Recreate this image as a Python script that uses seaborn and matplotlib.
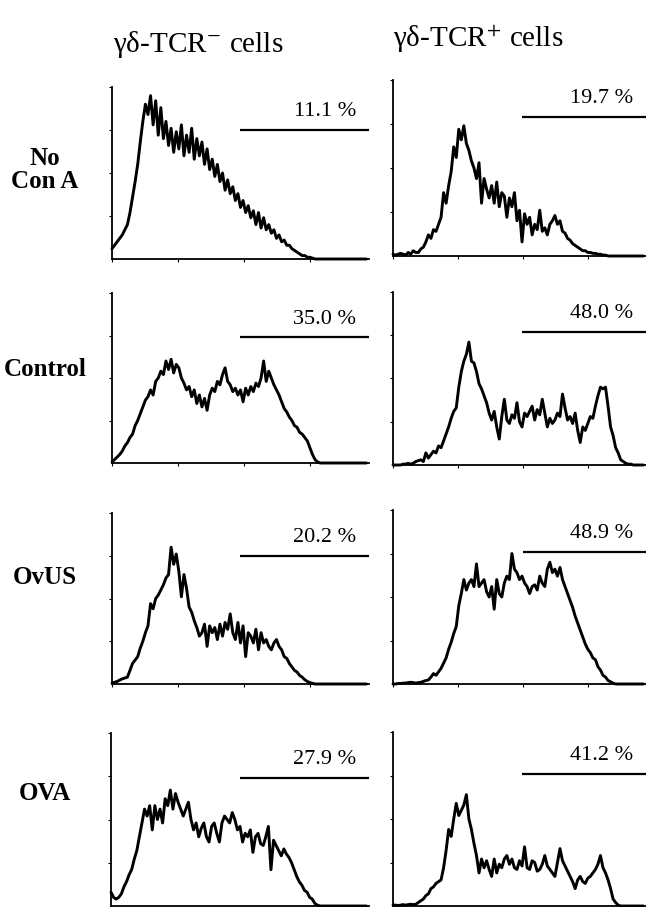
import numpy as np
import pandas as pd
import matplotlib
matplotlib.use("Agg")
import matplotlib.pyplot as plt
import seaborn as sns

# fluorescence histograms, channel position in % of axis width (0..99), height in % of axis
ROWS = ["No\nCon A", "Control", "OvUS", "OVA"]
COLS = ["γδ-TCR$^{-}$ cells", "γδ-TCR$^{+}$ cells"]

neg_no_cona = [6, 8, 10, 12, 14, 17, 20, 27, 36, 45, 55, 68, 80, 90, 84, 95, 78, 92, 72, 88,
               70, 80, 66, 76, 62, 74, 64, 78, 60, 72, 62, 76, 58, 70, 60, 68, 55, 64, 52, 58,
               48, 55, 45, 50, 40, 46, 38, 42, 34, 38, 30, 34, 27, 31, 24, 28, 20, 27, 18, 24,
               17, 20, 15, 17, 12, 14, 10, 11, 8, 8, 6, 5, 4, 3, 2, 2, 1, 1, 0.5, 0,
               0, 0, 0, 0, 0, 0, 0, 0, 0, 0, 0, 0, 0, 0, 0, 0, 0, 0, 0, 0]
pos_no_cona = [1, 0.5, 1, 1.5, 1, 0.5, 2, 1, 3, 2, 2, 4, 5, 8, 12, 10, 15, 14, 18, 22,
               36, 30, 40, 48, 62, 56, 72, 66, 74, 64, 60, 54, 50, 44, 53, 30, 44, 38, 33, 40,
               30, 42, 28, 36, 34, 22, 33, 28, 36, 20, 26, 8, 24, 18, 22, 12, 18, 15, 26, 14,
               16, 12, 18, 20, 23, 18, 20, 14, 13, 10, 9, 7, 6, 5, 4, 3, 3, 2, 2, 1.5,
               1.5, 1, 1, 0.5, 0.5, 0, 0, 0, 0, 0, 0, 0, 0, 0, 0, 0, 0, 0, 0, 0]
neg_control = [0.6, 2, 3.5, 5, 7, 10, 12, 15, 17, 22, 25, 29, 33, 37, 39, 43, 40, 48, 50, 54,
               52, 60, 55, 61, 53, 58, 56, 50, 47, 43, 45, 39, 43, 35, 40, 33, 38, 31, 40, 44,
               42, 48, 46, 52, 56, 48, 46, 42, 44, 40, 43, 36, 44, 40, 45, 42, 47, 45, 50, 60,
               48, 54, 50, 46, 43, 40, 36, 32, 30, 27, 25, 22, 21, 18, 17, 15, 13, 9, 5, 2,
               0.6, 0, 0, 0, 0, 0, 0, 0, 0, 0, 0, 0, 0, 0, 0, 0, 0, 0, 0, 0]
pos_control = [0, 0, 0, 0, 0.5, 0.5, 1, 0.5, 1, 2, 2.5, 3, 2, 7, 4, 6, 8, 7, 11, 10,
               14, 18, 22, 27, 31, 33, 45, 54, 60, 64, 71, 60, 59, 54, 47, 44, 40, 36, 30, 26,
               31, 22, 15, 28, 38, 26, 24, 29, 27, 36, 25, 22, 30, 28, 31, 34, 26, 32, 29, 38,
               30, 22, 27, 24, 26, 30, 28, 41, 33, 26, 28, 24, 30, 20, 13, 22, 20, 24, 28, 27,
               34, 40, 45, 44, 45, 34, 22, 17, 10, 7, 3, 2, 1, 0.5, 0.5, 0, 0, 0, 0, 0]
neg_ovus = [0.5, 1, 1.5, 2.3, 3, 3.5, 4, 8, 12, 14, 16, 21, 25, 30, 34, 47, 44, 50, 52, 55,
            58, 62, 64, 80, 70, 76, 66, 51, 64, 56, 45, 42, 37, 33, 28, 30, 35, 22, 34, 30,
            33, 26, 35, 28, 36, 32, 41, 30, 26, 36, 24, 34, 16, 30, 28, 24, 32, 20, 30, 24,
            26, 22, 20, 24, 26, 22, 20, 16, 15, 12, 10, 8, 7, 5, 4, 2.5, 1.5, 0.8, 0.4, 0,
            0, 0, 0, 0, 0, 0, 0, 0, 0, 0, 0, 0, 0, 0, 0, 0, 0, 0, 0, 0]
pos_ovus = [0, 0, 0.3, 0.3, 0.5, 0.5, 0.8, 1, 0.8, 0.5, 0.8, 1, 1.5, 2, 2.3, 4, 6, 5, 7, 9,
            12, 15, 20, 24, 29, 33, 45, 52, 60, 54, 58, 60, 56, 69, 56, 58, 60, 53, 50, 56,
            43, 60, 52, 50, 58, 62, 60, 75, 66, 64, 60, 62, 58, 56, 52, 56, 57, 54, 62, 58,
            56, 66, 70, 64, 66, 62, 67, 60, 56, 52, 48, 44, 39, 35, 31, 27, 23, 20, 18, 15,
            14, 10, 8, 5, 4, 2, 1.3, 0.5, 0, 0, 0, 0, 0, 0, 0, 0, 0, 0, 0, 0]
neg_ova = [8, 5, 4, 5, 7, 11, 14, 18, 21, 27, 32, 40, 48, 56, 52, 58, 44, 58, 50, 56,
           48, 62, 58, 67, 56, 65, 60, 56, 52, 56, 60, 50, 44, 48, 40, 45, 48, 40, 37, 46,
           48, 42, 37, 48, 52, 50, 48, 54, 50, 44, 46, 37, 42, 40, 44, 31, 40, 42, 36, 35,
           40, 46, 21, 38, 35, 32, 29, 33, 30, 28, 25, 21, 17, 14, 12, 9, 8, 5, 4, 1.5,
           0.5, 0, 0, 0, 0, 0, 0, 0, 0, 0, 0, 0, 0, 0, 0, 0, 0, 0, 0, 0]
pos_ova = [0.5, 0.5, 0.3, 0.5, 0.8, 0.5, 0.8, 1, 0.8, 1, 2, 3, 4, 6, 7, 10, 11, 13, 14, 15,
           22, 32, 44, 40, 50, 59, 52, 55, 58, 64, 50, 44, 36, 29, 19, 27, 22, 26, 21, 17,
           27, 19, 24, 22, 27, 29, 24, 27, 22, 21, 26, 23, 34, 22, 21, 26, 25, 20, 21, 24,
           29, 23, 21, 19, 17, 25, 33, 26, 23, 20, 17, 14, 10, 15, 17, 14, 13, 16, 17, 19,
           21, 24, 29, 22, 19, 15, 10, 4, 2, 0.5, 0, 0, 0, 0, 0, 0, 0, 0, 0, 0]

histograms = [[neg_no_cona, pos_no_cona],
              [neg_control, pos_control],
              [neg_ovus, pos_ovus],
              [neg_ova, pos_ova]]

# gated fraction (marker bar) per panel
gate_pct = [["11.1 %", "19.7 %"], ["35.0 %", "48.0 %"], ["20.2 %", "48.9 %"], ["27.9 %", "41.2 %"]]
gate_start = [[50, 51], [50, 51], [50, 51.5], [50, 51]]
gate_level = [[75, 79], [74, 77], [75, 76], [74, 76]]

sns.set_theme(style="white")
plt.rcParams["font.family"] = ["Liberation Serif", "DejaVu Serif"]
plt.rcParams["mathtext.fontset"] = "stix"
plt.rcParams["text.color"] = "black"

W, H = 646, 907
fig = plt.figure(figsize=(W / 100, H / 100), dpi=100)

# panel boxes in pixels: (left, right, top, bottom)
boxes = [[(112, 369, 87, 259), (393, 646, 80, 256)],
         [(112, 369, 293, 463), (393, 646, 292, 465)],
         [(112, 369, 513, 684), (393, 646, 510, 684)],
         [(111, 369, 733, 906), (393, 646, 732, 906)]]

for r in range(4):
    for c in range(2):
        l, rr, t, b = boxes[r][c]
        ax = fig.add_axes([l / W, 1 - b / H, (rr - l) / W, (b - t) / H])
        df = pd.DataFrame({"channel": np.arange(100), "count": histograms[r][c]})
        sns.lineplot(data=df, x="channel", y="count", ax=ax, color="black",
                     lw=2.1, clip_on=False)
        ax.set_xlim(0, 100)
        ax.set_ylim(0, 100)
        for s in ["top", "right"]:
            ax.spines[s].set_visible(False)
        for s in ["left", "bottom"]:
            ax.spines[s].set_color("black")
            ax.spines[s].set_linewidth(1.3)
        ax.set_xticks([0, 25.7, 51.4, 77.1])
        ax.set_yticks([25, 50, 75, 100])
        ax.tick_params(length=2.5, width=0.8, direction="out", color="black",
                       labelbottom=False, labelleft=False, bottom=True, left=True)
        ax.set_xlabel("")
        ax.set_ylabel("")
        ax.hlines(gate_level[r][c], gate_start[r][c], 100, color="black", lw=1.6, clip_on=False)
        ax.text(95, gate_level[r][c] + 5, gate_pct[r][c], ha="right", va="bottom",
                fontsize=16, color="black")

# column headers
fig.text(198 / W, 1 - 45 / H, COLS[0], ha="center", va="center", fontsize=21)
fig.text(478 / W, 1 - 40 / H, COLS[1], ha="center", va="center", fontsize=21)

# row labels
row_y = [170, 370, 578, 793]
for lab, y in zip(ROWS, row_y):
    fig.text(45 / W, 1 - y / H, lab, ha="center", va="center", fontsize=18,
             fontweight="bold", linespacing=1.0)

fig.savefig("out.png", dpi=100)
